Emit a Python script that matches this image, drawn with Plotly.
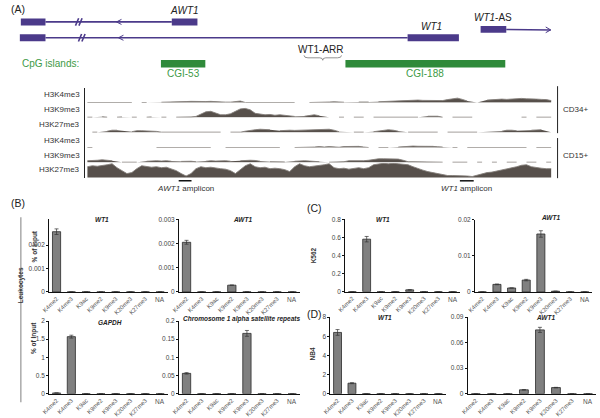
import plotly.graph_objects as go

W, H = 600, 418
def px(x): return x / W
def py(y): return 1 - y / H

# ---------------- data ----------------
categories = ["K4me2", "K4me3", "K9ac", "K9me2", "K9me3", "K20me3", "K27me3", "NA"]

leuk_wt1 = [0.00257, 0, 0, 0, 0, 0, 0, 0]
leuk_wt1_err = [0.00012, None, None, None, None, None, None, None]
leuk_awt1 = [0.00205, 0, 0, 0.00028, 0, 0, 0, 0]
leuk_awt1_err = [0.00008, None, None, None, None, None, None, None]
leuk_gapdh = [0.02, 1.57, 0, 0, 0, 0, 0, 0]
leuk_gapdh_err = [None, 0.04, None, None, None, None, None, None]
leuk_sat = [0.056, 0, 0, 0, 0.166, 0, 0, 0]
leuk_sat_err = [0.002, None, None, None, 0.008, None, None, None]
k562_wt1 = [0, 0.58, 0, 0, 0.02, 0, 0, 0]
k562_wt1_err = [None, 0.03, None, None, 0.002, None, None, None]
k562_awt1 = [0, 0.0021, 0.0011, 0.0033, 0.0161, 0.0002, 0, 0]
k562_awt1_err = [None, 0.0001, None, 0.0002, 0.0009, None, None, None]
nb4_wt1 = [6.4, 1.1, 0, 0, 0, 0, 0, 0]
nb4_wt1_err = [0.3, 0.05, None, None, None, None, None, None]
nb4_awt1 = [0, 0, 0, 0.0046, 0.075, 0.0072, 0, 0]
nb4_awt1_err = [None, None, None, 0.0003, 0.003, 0.0003, None, None]

# ChIP-seq tracks (signal per genomic bin, None = no data)
track_bins = list(range(95))
cd34_k4me3 = [0,0,0,0,0,0,0,0,0,0, None,0,0,None,None,0.3,0.3,0.3,0.5,0.8,
              1,1.2,1,1.3,1,1.2,0.8,0.4,0.4,0.4, 1.2,1.5,0,0,0,0,0,0,0,0,
              0,0,0,None,None,0,0,0,0,0.5, 0.8,0.5,0.3,None,None,0.5,0.5,0.5,None,0.8,
              1,1.3,1.8,2,2.2,2.5,2,2.5,2.2,2, 1.8,1.5,2,3,4,4.5,3.2,1.5,None,0,
              None,2.5,3,3,3.5,3.2,3.5,4,4.2,3.8, 4,3.5,3.2,3,2]
cd34_k9me3 = [0,0,None,0.5,0,None,0,0.3,None,0, 0,None,0,0.3,None,0,0,None,0,0,
              0,0.3,0.8,3.5,5.5,6,4.5,2.5,2.5,3.5, 6,8.5,9,7.5,4,3,2.5,2.8,2,2.5,
              2,1,0.8,None,1,2,2.5,1.5,None,0, None,0,0,None,0,0,0,None,0,0,
              0,0,0,0,0,0,0,0,None,1, 1.2,1,0,None,0,0,0,0,0,None,
              0,None,0,None,0,None,0,None,0,0, None,0,0,0,0]
cd34_k27me3 = [None,0,0,None,1,2,2,None,None,0.5, 1.5,1.5,1.2,1.5,0.8,0,0,0,0,0,
               0,0,0,0,0,0,0,0,None,0, 0,0,1,2,2.5,3,2.5,2.5,None,1.5,
               2,2,1.8,2,2,2.2,2.5,3,2.5,3, 2,0.5,None,None,0,0,0,None,0.5,1,
               2,2.5,2,1,None,0,0,0,0,0, 0,0,None,0,0,0,0,0,0,0,
               None,None,None,None,1,2,2,1.5,None,None, 2,2.5,2.5,None,0]
cd15_k4me3 = [0,0,None,None,None,None,None,None,None,None, None,None,None,None,0,0,0,0,0,0,
              0,0,0,0,0,0,None,None,0,0, 0,0,0,0,0,0,0,0,0,0,
              None,None,0,0,0,0,0.5,1,0.5,1, 0.8,0.3,1,1.3,1,1.2,0.5,0,None,0,
              0,0,None,0.5,1,1.2,1.5,1.3,1.5,1, 1.2,0.8,0.5,None,0,0,None,0,0,0,
              0,0,0.3,0.3,0,0,0,0,0,0, None,0,0,0,0]
cd15_k9me3 = [1.5,1.5,2,2.5,2,1.5,None,0,0,0, 0,None,1,1.5,1.5,1.2,1.5,1,None,0.8,
              1,1,0.5,None,1,1.5,1.2,1.5,1.5,1, None,1.5,2,2,1.8,1,None,0.5,0.5,0.5,
              0.3,None,1,1.5,1.5,1.2,1,0.5,None,0, 0,0,0.5,1.5,1.5,1,1.5,2,3,3.5,
              3.5,3.5,3,3.2,2,0.5,0.5,0.5,0.5,0.5, 0.5,0.3,0,None,0,0,0,0,None,0,
              0,None,0,0,None,0,0,0,None,0, 0,0,None,0,0]
cd15_k27me3 = [11,12,11.5,12,13,14,10,7,4,5, 9,12,11,10.5,11,10,10.5,9,7,4,
               1.5,4,9,11,10,10.5,9.5,9,8.5,7, 4,8,12,14,11,10,10.5,9,9.5,9,
               8,6,11,14,12,11,11.5,12,13,14, 10,9,9.5,8.5,9,10,9,10,13,14,
               14.5,14,14.5,14,13.5,13,11,9,7.5,6, 5,4,3,2,2,2,1.5,1.5,1,2.5,
               4,5,5.5,6.5,7.5,9,10,11,12.5,13, 11,10,9.5,9,9]

tracks = [("H3K4me3", cd34_k4me3), ("H3K9me3", cd34_k9me3), ("H3K27me3", cd34_k27me3),
          ("H3K4me3", cd15_k4me3), ("H3K9me3", cd15_k9me3), ("H3K27me3", cd15_k27me3)]
amplicons = [("<i>AWT1</i> amplicon", 18.5, 21.1), ("<i>WT1</i> amplicon", 75.5, 78.3)]

# gene model (locus coordinates)
awt1_exons = [(13, 38), (166, 192)]
awt1_intron = (38, 166)
wt1_exons = [(12, 38), (405, 457)]
wt1_intron = (38, 405)
wt1as_exon = (479, 505)
wt1as_tail = (505, 550)
cpg_islands = [("CGI-53", 155, 200), ("CGI-188", 342, 504)]
wt1_arr = (300, 338)

# ---------------- figure ----------------
fig = go.Figure()
PURPLE = "#4b3a8a"
GREEN = "#2f8a3a"
FONT = "Liberation Sans"
shapes, annos = [], []

# gene panel axis
fig.update_layout(
    xaxis=dict(domain=[0, 1], range=[0, 600], visible=False, anchor="y", fixedrange=True),
    yaxis=dict(domain=[py(82), 1], range=[82, 0], visible=False, anchor="x", fixedrange=True),
)
fig.add_trace(go.Scatter(x=[0], y=[0], mode="markers", marker=dict(opacity=0), showlegend=False,
                         hoverinfo="skip", xaxis="x", yaxis="y"))

def rect(x0, x1, y0, y1, color, **kw):
    shapes.append(dict(type="rect", xref="x", yref="y", x0=x0, x1=x1, y0=y0, y1=y1,
                       fillcolor=color, line=dict(color=color, width=0), layer="above", **kw))

def seg(x0, y0, x1, y1, color, w=1.5, xref="x", yref="y"):
    shapes.append(dict(type="line", xref=xref, yref=yref, x0=x0, y0=y0, x1=x1, y1=y1,
                       line=dict(color=color, width=w), layer="above"))

# AWT1 row
r1 = 18.3
seg(awt1_intron[0], r1, awt1_intron[1], r1, PURPLE, 1.6)
for a, b in awt1_exons:
    rect(a, b, r1 - 3.6, r1 + 3.6, PURPLE)
# WT1 row
r2 = 34.5
seg(wt1_intron[0], r2, wt1_intron[1], r2, PURPLE, 1.6)
for a, b in wt1_exons:
    rect(a, b, r2 - 3.6, r2 + 3.6, PURPLE)
# break marks and direction arrows
for row, bx, ax in [(r1, 70, 110), (r2, 73, 112)]:
    for dx in (0, 3.5):
        seg(bx + dx - 1.6, row + 3.8, bx + dx + 1.6, row - 3.8, PURPLE, 1.6)
    shapes.append(dict(type="path", xref="x", yref="y",
                       path=f"M {ax+5} {row-2.6} L {ax} {row} L {ax+5} {row+2.6}",
                       line=dict(color=PURPLE, width=1)))
# WT1-AS
r3 = 26.0
rect(wt1as_exon[0], wt1as_exon[1], r3 - 3.5, r3 + 3.5, PURPLE)
seg(wt1as_tail[0], r3, wt1as_tail[1], r3 + 0.5, PURPLE, 1.4)
shapes.append(dict(type="path", xref="x", yref="y",
                   path=f"M {wt1as_tail[1]-5} {r3-2.5} L {wt1as_tail[1]} {r3+0.5} L {wt1as_tail[1]-5} {r3+3.3}",
                   line=dict(color=PURPLE, width=1)))
# WT1-ARR brace
a, b = wt1_arr
m = (a + b) / 2
shapes.append(dict(type="path", xref="x", yref="y",
                   path=f"M {a} 52.5 Q {a} 55 {a+4} 55 L {m-3} 55 Q {m} 55 {m} 57.5 Q {m} 55 {m+3} 55 L {b-4} 55 Q {b} 55 {b} 52.5",
                   line=dict(color="#777", width=0.8)))
# CpG islands
for name, a, b in cpg_islands:
    rect(a, b, 57.2, 64.8, GREEN)
    annos.append(dict(xref="x", yref="y", x=(a + b) / 2, y=71.5, text=name, showarrow=False,
                      font=dict(family=FONT, size=10, color="#3d9a46")))

def atext(x, y, text, size=10, color="#222", xanchor="center", **kw):
    annos.append(dict(xref="x", yref="y", x=x, y=y, text=text, showarrow=False, xanchor=xanchor,
                      yanchor="middle", font=dict(family=FONT, size=size, color=color), **kw))

atext(179, 7, "<i>AWT1</i>")
atext(429, 23, "<i>WT1</i>")
atext(492, 14, "<i>WT1</i>-AS")
atext(317, 46, "WT1-ARR")
atext(12, 61, "CpG islands:", color="#3d9a46", xanchor="left")

# ---------------- tracks ----------------
fig.update_layout(xaxis2=dict(domain=[px(78), px(553)], range=[-0.5, 94.5], visible=False,
                              anchor="y2", fixedrange=True))
baselines = [100.7, 115.7, 131.0, 146.7, 161.7, 177.3]
label_y = [92.7, 108, 123, 140, 155, 169]
for i, ((name, vals), b) in enumerate(zip(tracks, baselines)):
    n = i + 2
    fig.add_trace(go.Scatter(x=track_bins, y=vals, mode="lines", fill="tozeroy",
                             fillcolor="#57504b", line=dict(color="#857f7a", width=0.9),
                             connectgaps=False, showlegend=False, hoverinfo="skip",
                             xaxis="x2", yaxis=f"y{n}"))
    fig.update_layout({f"yaxis{n}": dict(domain=[py(b + 0.6), py(b + 0.6 - 15.4)], range=[-0.6, 14.8],
                                         anchor="x2", showticklabels=False, showgrid=False,
                                         zeroline=False, showline=True, linecolor="#222",
                                         linewidth=1, ticks="", fixedrange=True)})
    annos.append(dict(xref="paper", yref="paper", x=px(75), y=py(label_y[i]), text=name,
                      showarrow=False, xanchor="right", yanchor="middle",
                      font=dict(family=FONT, size=8, color="#333")))
for text, a, b in amplicons:
    shapes.append(dict(type="line", xref="x2", yref="paper", x0=a, x1=b, y0=py(180.7), y1=py(180.7),
                       line=dict(color="#111", width=1.5)))
    annos.append(dict(xref="x2", yref="paper", x=(a + b) / 2, y=py(189), text=text, showarrow=False,
                      yanchor="middle", font=dict(family=FONT, size=8, color="#333")))
# cell-type brackets
for (y0, y1, lab, ly) in [(84, 132, "CD34+", 108), (137, 178, "CD15+", 155)]:
    seg(px(557), py(y0), px(557), py(y1), "#222", 1, xref="paper", yref="paper")
    annos.append(dict(xref="paper", yref="paper", x=px(560), y=py(ly), text=lab, showarrow=False,
                      xanchor="left", yanchor="middle", font=dict(family=FONT, size=8, color="#333")))

# ---------------- bar charts ----------------
charts = [
    (leuk_wt1, leuk_wt1_err, 41.7, 161.7, 220, 294.3, [0, 0.0031], [0, 0.001, 0.002], ["0", "0.001", "0.002"], "<b><i>WT1</i></b>", (95, 220)),
    (leuk_awt1, leuk_awt1_err, 173.3, 295.7, 220, 294.3, [0, 0.003], [0, 0.001, 0.002, 0.003], ["0", "0.001", "0.002", "0.003"], "<b><i>AWT1</i></b>", (238, 220)),
    (leuk_gapdh, leuk_gapdh_err, 41.7, 161.7, 324, 398.3, [0, 2], [0, 0.5, 1, 1.5, 2], ["0", "0.5", "1", "1.5", "2"], "<b><i>GAPDH</i></b>", (103, 325)),
    (leuk_sat, leuk_sat_err, 173.3, 295.7, 324, 398.3, [0, 0.2], [0, 0.05, 0.1, 0.15, 0.2], ["0", "0.05", "0.1", "0.15", "0.2"], "<b><i>Chromosome 1 alpha satellite repeats</i></b>", (237, 322)),
    (k562_wt1, k562_wt1_err, 341.7, 458, 220, 294, [0, 0.8], [0, 0.2, 0.4, 0.6, 0.8], ["0", "0.2", "0.4", "0.6", "0.8"], "<b><i>WT1</i></b>", (380, 220)),
    (k562_awt1, k562_awt1_err, 473.3, 592, 220.7, 294.3, [0, 0.02], [0, 0.01, 0.02], ["0", "0.01", "0.02"], "<b><i>AWT1</i></b>", (550, 218)),
    (nb4_wt1, nb4_wt1_err, 326.7, 443.5, 320, 398.3, [0, 8], [0, 2, 4, 6, 8], ["0", "2", "4", "6", "8"], "<b><i>WT1</i></b>", (382, 320)),
    (nb4_awt1, nb4_awt1_err, 466, 596, 320, 398.3, [0, 0.09], [0, 0.03, 0.06, 0.09], ["0", "0.03", "0.06", "0.09"], "<b><i>AWT1</i></b>", (545, 320)),
]
for k, (vals, err, x0, x1, yt, yb, rng, tv, tt, title, (tx, ty)) in enumerate(charts):
    xa, ya = k + 3, k + 8
    fig.add_trace(go.Bar(x=categories, y=vals, width=0.55,
                         marker=dict(color="#808080", line=dict(color="#2a2a2a", width=0.8)),
                         error_y=dict(type="data", array=err, color="#333", thickness=0.7, width=2),
                         showlegend=False, hoverinfo="skip", xaxis=f"x{xa}", yaxis=f"y{ya}"))
    fig.update_layout({
        f"xaxis{xa}": dict(domain=[px(x0), px(x1)], anchor=f"y{ya}", type="category",
                           categoryorder="array", categoryarray=categories, range=[-0.5, 7.5],
                           tickvals=categories[:-1], ticktext=categories[:-1], tickangle=-45,
                           tickfont=dict(family=FONT, size=6, color="#555"),
                           showline=True, linecolor="#111", linewidth=1, ticks="",
                           showgrid=False, zeroline=False, fixedrange=True),
        f"yaxis{ya}": dict(domain=[py(yb), py(yt)], anchor=f"x{xa}", range=rng,
                           tickvals=tv, ticktext=tt, tickfont=dict(family=FONT, size=6.5, color="#444"),
                           showline=True, linecolor="#111", linewidth=1, ticks="outside",
                           ticklen=2, tickcolor="#111", showgrid=False, zeroline=False, fixedrange=True),
    })
    annos.append(dict(xref=f"x{xa}", yref=f"y{ya}", x="NA", y=0, yshift=-8, text="NA", showarrow=False,
                      font=dict(family=FONT, size=6.5, color="#555")))
    annos.append(dict(xref="paper", yref="paper", x=px(tx), y=py(ty), text=title, showarrow=False,
                      xanchor="center", yanchor="middle", font=dict(family=FONT, size=6.5, color="#222")))

# axis titles & panel labels
for text, x, y in [("<b>% of Input</b>", 21, 248), ("<b>% of Input</b>", 21, 360),
                   ("<b>K562</b>", 310, 257), ("<b>NB4</b>", 309, 366)]:
    annos.append(dict(xref="paper", yref="paper", x=px(x), y=py(y), text=text, textangle=-90,
                      showarrow=False, font=dict(family=FONT, size=6.5, color="#333")))
annos.append(dict(xref="paper", yref="paper", x=px(7), y=py(308), text="<b>Leukocytes</b>", textangle=-90,
                  showarrow=False, font=dict(family=FONT, size=6.5, color="#333")))
seg(px(13), py(218), px(13), py(407), "#aaaaaa", 1.5, xref="paper", yref="paper")

for text, x, y in [("(A)", 1, 5), ("(B)", 1, 203), ("(C)", 301, 208), ("(D)", 301, 317)]:
    annos.append(dict(xref="paper", yref="paper", x=px(x), y=py(y), text=text, showarrow=False,
                      xanchor="left", yanchor="middle", font=dict(family=FONT, size=10.5, color="#222")))

fig.update_layout(width=W, height=H, autosize=False, margin=dict(l=0, r=0, t=0, b=0),
                  paper_bgcolor="white", plot_bgcolor="white", shapes=shapes, annotations=annos,
                  bargap=0.4, showlegend=False)
fig.write_html("out.html", config={"displayModeBar": False, "staticPlot": True},
               post_script="document.body.style.margin='0px';document.body.style.overflow='hidden';")
